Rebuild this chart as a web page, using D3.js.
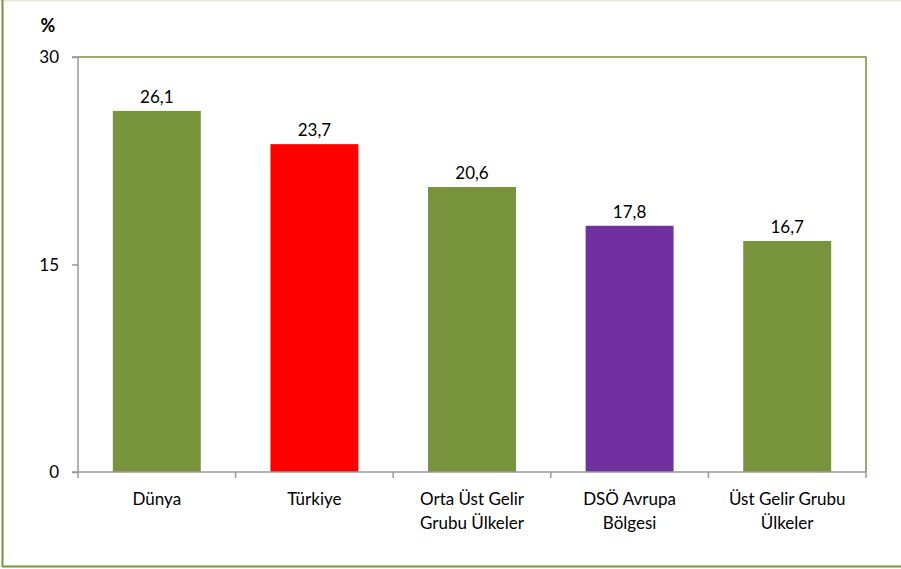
<!DOCTYPE html>
<html><head><meta charset="utf-8">
<script src="https://cdn.jsdelivr.net/npm/d3@7"></script>
<style>html,body{margin:0;padding:0;background:#fff;}svg{display:block;}</style>
</head><body>
<svg id="chart" width="901" height="569"></svg>
<script>
const categories = [["Dünya"], ["Türkiye"], ["Orta Üst Gelir", "Grubu Ülkeler"], ["DSÖ Avrupa", "Bölgesi"], ["Üst Gelir Grubu", "Ülkeler"]];
const values = [26.1, 23.7, 20.6, 17.8, 16.7];
const valueLabels = ["26,1", "23,7", "20,6", "17,8", "16,7"];
const barColors = ["#77933C", "#FF0000", "#77933C", "#7030A0", "#77933C"];
const yTicks = [0, 15, 30];

const svg = d3.select("#chart");
const font = "Lato, 'Open Sans', sans-serif";
const L = 78, R = 866, T = 57, B = 472;

// outer frame
svg.append("line").attr("x1", 0).attr("x2", 901).attr("y1", 0.5).attr("y2", 0.5).attr("stroke", "#e3e8d6").attr("stroke-width", 1.5);
svg.append("line").attr("x1", 2.5).attr("x2", 2.5).attr("y1", 0).attr("y2", 567).attr("stroke", "#77933C").attr("stroke-width", 2);
svg.append("line").attr("x1", 2).attr("x2", 901).attr("y1", 566.5).attr("y2", 566.5).attr("stroke", "#77933C").attr("stroke-width", 2);

const x = d3.scaleBand().domain(d3.range(categories.length)).range([L, R]).paddingInner(0.442).paddingOuter(0.221);
const y = d3.scaleLinear().domain([0, 30]).range([B, T]);

// plot border top/right
svg.append("path").attr("d", `M${L},${T}H${R}V${B}`).attr("fill", "none").attr("stroke", "#77933C").attr("stroke-width", 1.5);

// bars
svg.selectAll("rect.bar").data(values).join("rect").attr("class", "bar")
  .attr("x", (d, i) => x(i)).attr("width", x.bandwidth())
  .attr("y", d => y(d)).attr("height", d => B - y(d))
  .attr("fill", (d, i) => barColors[i]);

// value labels
svg.selectAll("text.val").data(values).join("text").attr("class", "val")
  .attr("x", (d, i) => x(i) + x.bandwidth() / 2).attr("y", d => y(d) - 8)
  .attr("text-anchor", "middle").attr("font-family", font).attr("font-size", 17).attr("fill", "#000")
  .text((d, i) => valueLabels[i]);

// y axis
const yAxis = d3.axisLeft(y).tickValues(yTicks).tickSize(6).tickFormat(d3.format("d"));
const ya = svg.append("g").attr("transform", `translate(${L},0)`).call(yAxis);
ya.select(".domain").attr("stroke", "#9a9a9a").attr("stroke-width", 1.5).attr("d", `M-6,${T}H0V${B}`);
ya.selectAll(".tick line").attr("stroke", "#9a9a9a").attr("stroke-width", 1.5);
ya.selectAll(".tick text").attr("font-family", font).attr("font-size", 17).attr("fill", "#000").attr("x", -19).attr("dy", "0.35em");

// x axis
const xb = d3.scaleLinear().domain([0, categories.length]).range([L, R]);
const xa = svg.append("g").attr("transform", `translate(0,${B})`);
xa.append("line").attr("x1", L - 6).attr("x2", R).attr("y1", 0).attr("y2", 0).attr("stroke", "#9a9a9a").attr("stroke-width", 1.5);
xa.selectAll("line.tk").data(d3.range(categories.length + 1)).join("line").attr("class", "tk")
  .attr("x1", d => xb(d)).attr("x2", d => xb(d)).attr("y1", 0).attr("y2", 6).attr("stroke", "#9a9a9a").attr("stroke-width", 1.5);
const lab = xa.selectAll("text.cat").data(categories).join("text").attr("class", "cat")
  .attr("text-anchor", "middle").attr("font-family", font).attr("font-size", 17).attr("fill", "#000");
lab.each(function(d, i) {
  const t = d3.select(this);
  d.forEach((s, j) => t.append("tspan").attr("x", x(i) + x.bandwidth() / 2).attr("y", 33 + j * 24).text(s));
});

// unit label
svg.append("text").attr("x", 48).attr("y", 32).attr("text-anchor", "middle").attr("font-family", font)
  .attr("font-size", 18).attr("font-weight", "bold").attr("fill", "#000").text("%");
</script>
</body></html>
